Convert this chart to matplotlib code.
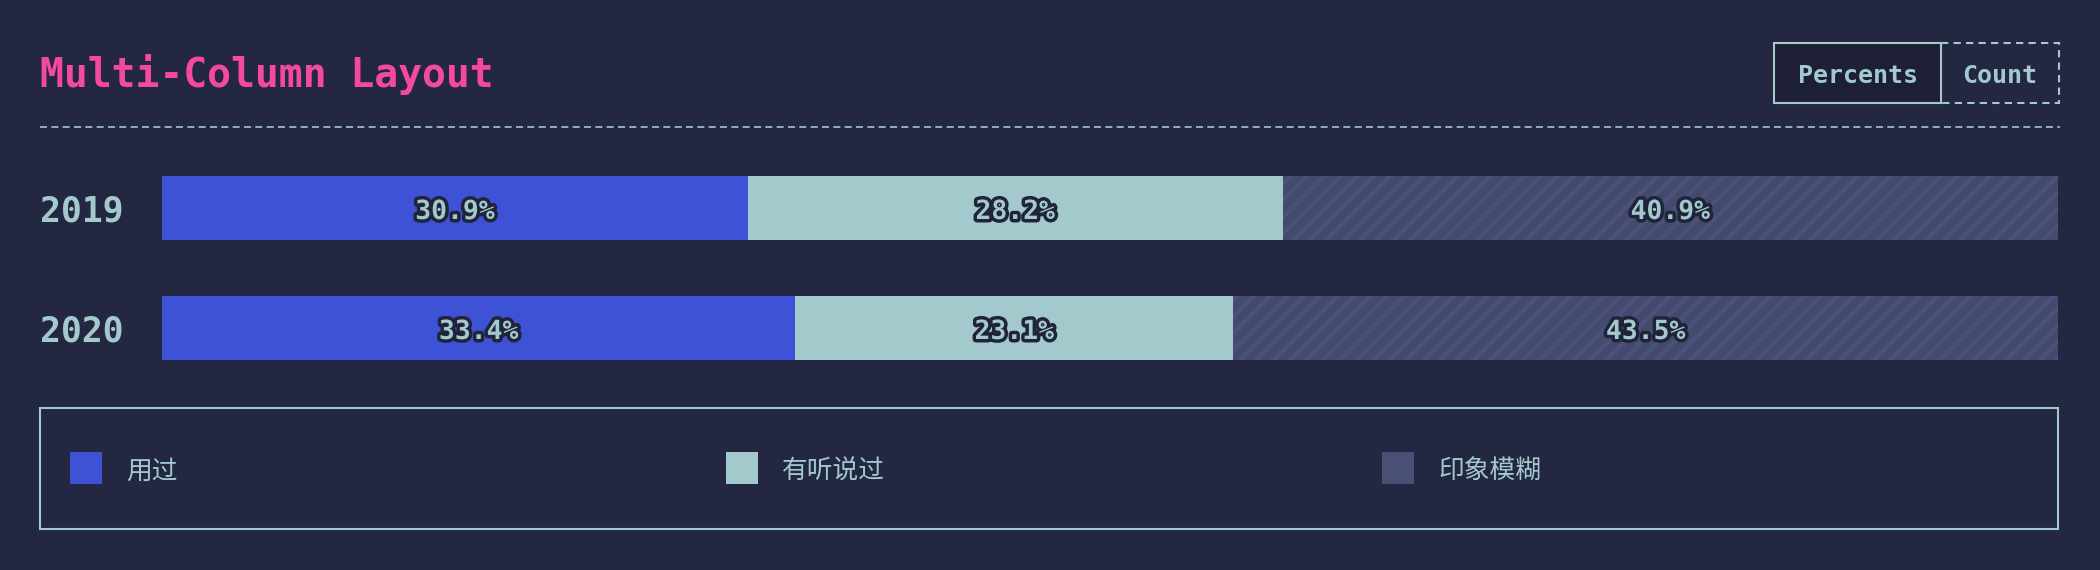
import matplotlib
matplotlib.use("Agg")
import matplotlib.pyplot as plt
import matplotlib.patheffects as pe
from matplotlib.patches import Rectangle
from matplotlib.lines import Line2D
import matplotlib.transforms as mtransforms

# ---- data ----
years = ["2019", "2020"]
categories = ["用过", "有听说过", "印象模糊"]
used = [30.9, 33.4]
heard = [28.2, 23.1]
vague = [40.9, 43.5]
title = "Multi-Column Layout"
buttons = ["Percents", "Count"]

# ---- style ----
BG = "#232741"
TEAL = "#a3c9cc"
BLUE = "#3d52d4"
VAGUE = "#444a6e"
VAGUE_HATCH = "#4c517a"
VAGUE_LEGEND = "#4a4f76"
PINK = "#f548a3"
DARK = "#1c1f35"
MONO = "DejaVu Sans Mono"
CJK = ["Noto Sans CJK SC", "DejaVu Sans"]

plt.rcParams["hatch.linewidth"] = 3.0

W, H = 2100, 570
fig = plt.figure(figsize=(W / 100, H / 100), dpi=100, facecolor=BG)

# overlay axes in pixel coordinates (origin top-left)
ov = fig.add_axes([0, 0, 1, 1])
ov.set_xlim(0, W)
ov.set_ylim(H, 0)
ov.axis("off")
ov.patch.set_alpha(0)

# title
ov.text(40, 87, title, color=PINK, fontsize=28.6, fontweight="bold",
        family=MONO, ha="left", va="baseline")

# dashed separator
ov.add_line(Line2D([40, 2060], [127, 127], color=TEAL, lw=1.2,
                   dashes=[4.2, 2.6]))

# buttons
ov.add_patch(Rectangle((1941, 43), 118, 60, facecolor=BG, edgecolor=TEAL,
                       lw=1.5, linestyle=(0, (3.5, 2.5))))
ov.add_patch(Rectangle((1774, 43), 167, 60, facecolor=DARK, edgecolor=TEAL,
                       lw=1.5))
ov.text(1857.5, 76, buttons[0], color=TEAL, fontsize=18, fontweight="bold",
        family=MONO, ha="center", va="center")
ov.text(2000, 76, buttons[1], color=TEAL, fontsize=18, fontweight="bold",
        family=MONO, ha="center", va="center")

# bars axes: x 162..2058 px, y 148..388 px from top
ax = fig.add_axes([162 / W, 1 - 388 / H, (2058 - 162) / W, 240 / H])
ax.set_facecolor("none")
ax.set_xlim(0, 100)
ax.set_ylim(1.5, -0.5)
ax.axis("off")

pos = list(range(len(years)))
bh = 64 / 120
lefts = [0.0] * len(years)
series = [used, heard, vague]
face = [BLUE, TEAL, VAGUE]
stroke = [pe.withStroke(linewidth=5, foreground="#20243a")]
lab_tr = mtransforms.offset_copy(ax.transData, fig=fig, x=0, y=-4, units="dots")
for i, vals in enumerate(series):
    if i == 2:
        ax.barh(pos, vals, left=lefts, height=bh, color=face[i],
                edgecolor=VAGUE_HATCH, linewidth=0, hatch="//")
    else:
        ax.barh(pos, vals, left=lefts, height=bh, color=face[i], linewidth=0)
    for j, v in enumerate(vals):
        ax.text(lefts[j] + v / 2, pos[j], f"{v:.1f}%", color=TEAL,
                fontsize=19, fontweight="bold", family=MONO,
                ha="center", va="center", path_effects=stroke,
                transform=lab_tr)
    lefts = [l + v for l, v in zip(lefts, vals)]

# year labels
tr = mtransforms.blended_transform_factory(fig.transFigure, ax.transData)
tr = mtransforms.offset_copy(tr, fig=fig, x=0, y=-3, units="dots")
for j, y in enumerate(years):
    ax.text(40 / W, pos[j], y, transform=tr, color=TEAL, fontsize=25,
            fontweight="bold", family=MONO, ha="left", va="center")

# legend box
ov.add_patch(Rectangle((40, 408), 2018, 121, facecolor="none",
                       edgecolor=TEAL, lw=1.5))
leg_colors = [BLUE, TEAL, VAGUE_LEGEND]
for k, (cat, col) in enumerate(zip(categories, leg_colors)):
    x0 = 70 + k * 656
    ov.add_patch(Rectangle((x0, 452), 32, 32, facecolor=col, edgecolor="none"))
    ov.text(x0 + 56, 472, cat, color=TEAL, fontsize=18.5, family=CJK,
            ha="left", va="center")

fig.savefig("out.png", dpi=100, facecolor=BG)
